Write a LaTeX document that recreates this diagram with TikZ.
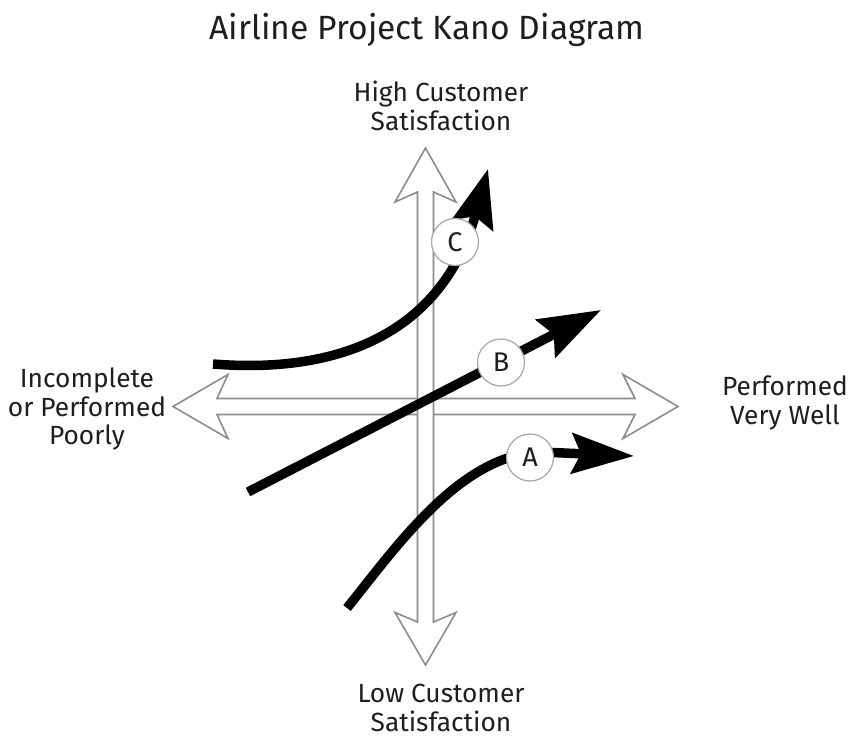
\documentclass[tikz,border=0pt]{standalone}
\usepackage{fontspec}
\setmainfont{Fira Sans}
\usetikzlibrary{arrows.meta}
\definecolor{axisgray}{HTML}{8C8C8C}
\definecolor{ringcol}{HTML}{A8A898}
\definecolor{txt}{HTML}{1E1E1E}
\begin{document}
\begin{tikzpicture}[x=1pt,y=-1pt,
  axisline/.style={draw=axisgray,line width=1.6pt,line join=miter},
  curveline/.style={line width=9.5pt,black},
  lbl/.style={align=center,text=txt,font=\fontsize{26.3}{28.5}\selectfont,inner sep=0pt},
  ring/.style={circle,draw=ringcol,line width=1.2pt,fill=white,minimum size=47pt,inner sep=0pt,text=txt,font=\fontsize{27}{28}\selectfont}]
\useasboundingbox (0,0) rectangle (849,738);
% title
\node[lbl,font=\fontsize{33.6}{36}\selectfont] (title) at (427,30) {Airline Project Kano Diagram};
% horizontal axis arrow
\draw[axisline] (173,406.5) -- (228,374.5) -- (217,398.5) -- (635,398.5) -- (623,374.5) -- (678,406.5)
  -- (623,438.5) -- (635,414.5) -- (217,414.5) -- (228,438.5) -- cycle;
% vertical axis arrow
\draw[axisline,fill=white] (425.5,148) -- (456,202) -- (433.5,192) -- (433.5,622) -- (456,612.5) -- (425.5,665)
  -- (395,612.5) -- (417.5,622) -- (417.5,192) -- (395,202) -- cycle;
% curves
\coordinate (cS) at (213,364);
\coordinate (cE) at (488,169);
\coordinate (bS) at (248,492);
\coordinate (bE) at (601,310);
\coordinate (aS) at (347,608);
\coordinate (aM) at (540,452);
\coordinate (aE) at (634,456);
\draw[curveline,-{Stealth[length=58pt,width=42pt,inset=9pt]}] (cS) .. controls (350,375) and (445,325) .. (cE);
\draw[curveline,-{Stealth[length=62pt,width=42pt,inset=9pt]}] (bS) -- (bE);
\draw[curveline,-{Stealth[length=62pt,width=40pt,inset=9pt]}] (aS) .. controls (397,546) and (460,455) .. (aM) -- (aE);
% circles
\node[ring] (C) at (455,242) {C};
\node[ring] (B) at (501,362.5) {B};
\node[ring] (A) at (530,457.5) {A};
% axis labels
\node[lbl] (top) at (441,106) {High Customer\\Satisfaction};
\node[lbl] (bot) at (441,708) {Low Customer\\Satisfaction};
\node[lbl] (left) at (87,409) {Incomplete\\or Performed\\Poorly};
\node[lbl] (right) at (785,403) {Performed\\Very Well};
\end{tikzpicture}
\end{document}
